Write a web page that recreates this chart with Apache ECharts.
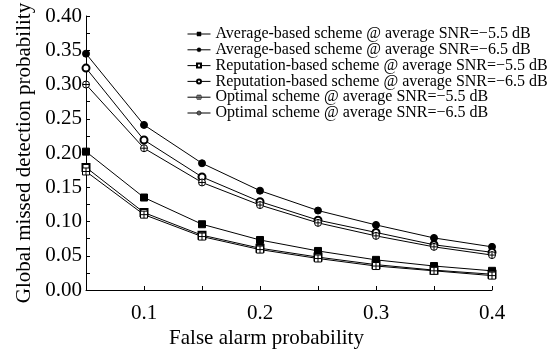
<!DOCTYPE html>
<html><head><meta charset="utf-8">
<script src="https://cdn.jsdelivr.net/npm/echarts@6/dist/echarts.min.js"></script>
<style>html,body{margin:0;padding:0;background:#fff}#c{width:555px;height:351px}</style>
</head><body><div id="c"></div>
<script>
const xValues = [0.05, 0.10, 0.15, 0.20, 0.25, 0.30, 0.35, 0.40];
const seriesNames = [
  "Average-based scheme @ average SNR=\u22125.5 dB",
  "Average-based scheme @ average SNR=\u22126.5 dB",
  "Reputation-based scheme @ average SNR=\u22125.5 dB",
  "Reputation-based scheme @ average SNR=\u22126.5 dB",
  "Optimal scheme @ average SNR=\u22125.5 dB",
  "Optimal scheme @ average SNR=\u22126.5 dB"
];
const avg55 = [0.202, 0.135, 0.096, 0.073, 0.057, 0.044, 0.035, 0.028];
const avg65 = [0.345, 0.241, 0.185, 0.145, 0.116, 0.095, 0.076, 0.063];
const rep55 = [0.179, 0.113, 0.080, 0.061, 0.048, 0.037, 0.029, 0.023];
const rep65 = [0.324, 0.219, 0.165, 0.129, 0.102, 0.084, 0.066, 0.055];
const opt55 = [0.173, 0.110, 0.078, 0.059, 0.046, 0.035, 0.028, 0.021];
const opt65 = [0.300, 0.207, 0.157, 0.124, 0.098, 0.079, 0.063, 0.051];
const yTicks = [0, 0.05, 0.10, 0.15, 0.20, 0.25, 0.30, 0.35, 0.40];

const FONT = "Liberation Serif, Times New Roman, serif";
const squarePlus = 'path://M0,0L10,0L10,10L0,10Z M5,0L5,10 M0,5L10,5';
const circlePlus = 'path://M5,0A5,5 0 1,1 5,10A5,5 0 1,1 5,0Z M5,0L5,10 M0,5L10,5';
const symbols = ['rect', 'circle', 'emptyRect', 'emptyCircle', squarePlus, circlePlus];
const datasets = [avg55, avg65, rep55, rep65, opt55, opt65];

const series = datasets.map((d, i) => {
  const isPath = i >= 4;
  return {
    name: seriesNames[i],
    type: 'line',
    data: d.map((v, k) => [xValues[k], v]),
    symbol: symbols[i],
    symbolSize: 7,
    showAllSymbol: true,
    color: '#000',
    lineStyle: { color: '#000', width: 1 },
    itemStyle: isPath
      ? { color: '#fff', borderColor: '#000', borderWidth: 1 }
      : { color: '#000', borderColor: '#000', borderWidth: 1 },
    emphasis: { disabled: true },
    animation: false,
    z: 2
  };
});

const legends = seriesNames.map((n, i) => {
  const isPath = i >= 4;
  return {
    orient: 'vertical',
    left: 187,
    top: 26 + i * 15.8,
    padding: 0,
    itemWidth: 23,
    itemHeight: 5,
    itemGap: 0,
    selectedMode: false,
    textStyle: { fontFamily: FONT, fontSize: 16, lineHeight: 14, color: '#000' },
    lineStyle: { width: 1, color: '#000' },
    data: [{
      name: n,
      itemStyle: isPath
        ? { color: '#fff', borderColor: '#000', borderWidth: 0.8 }
        : { color: '#000', borderColor: '#000', borderWidth: 0.5 }
    }]
  };
});

const chart = echarts.init(document.getElementById('c'), null, { renderer: 'canvas' });
chart.setOption({
  backgroundColor: '#fff',
  animation: false,
  textStyle: { fontFamily: FONT, color: '#000' },
  grid: { left: 86, right: 63, top: 16, bottom: 61, containLabel: false, outerBoundsMode: 'none' },
  legend: legends,
  xAxis: {
    type: 'value',
    min: 0.05,
    max: 0.4,
    interval: 0.05,
    name: 'False alarm probability',
    nameLocation: 'middle',
    nameMoveOverlap: false,
    nameGap: 38,
    nameTextStyle: { fontFamily: FONT, fontSize: 21, color: '#000', padding: [0, 45, 0, 0] },
    axisLine: { lineStyle: { color: '#000', width: 1 } },
    axisTick: { inside: true, length: 4, lineStyle: { color: '#000' } },
    axisLabel: {
      fontFamily: FONT, fontSize: 21, color: '#000', margin: 13,
      formatter: v => {
        const t = v * 10;
        return (Math.abs(t - Math.round(t)) < 1e-6 && v > 0.06) ? (Math.round(t) / 10).toFixed(1) : '';
      }
    },
    splitLine: { show: false }
  },
  yAxis: {
    type: 'value',
    min: 0,
    max: 0.4,
    interval: 0.05,
    name: 'Global missed detection probability',
    nameLocation: 'middle',
    nameMoveOverlap: false,
    nameGap: 51,
    nameTextStyle: { fontFamily: FONT, fontSize: 21, color: '#000' },
    axisLine: { show: true, lineStyle: { color: '#000', width: 1 } },
    axisTick: { inside: true, length: 4, lineStyle: { color: '#000' } },
    minorTick: { show: true, splitNumber: 2, length: 4, lineStyle: { color: '#000' } },
    axisLabel: {
      fontFamily: FONT, fontSize: 21, color: '#000', margin: 4,
      formatter: v => {
        const idx = yTicks.findIndex(t => Math.abs(t - v) < 1e-9);
        return idx >= 0 ? yTicks[idx].toFixed(2) : '';
      }
    },
    splitLine: { show: false }
  },
  series: series
});
</script></body></html>
